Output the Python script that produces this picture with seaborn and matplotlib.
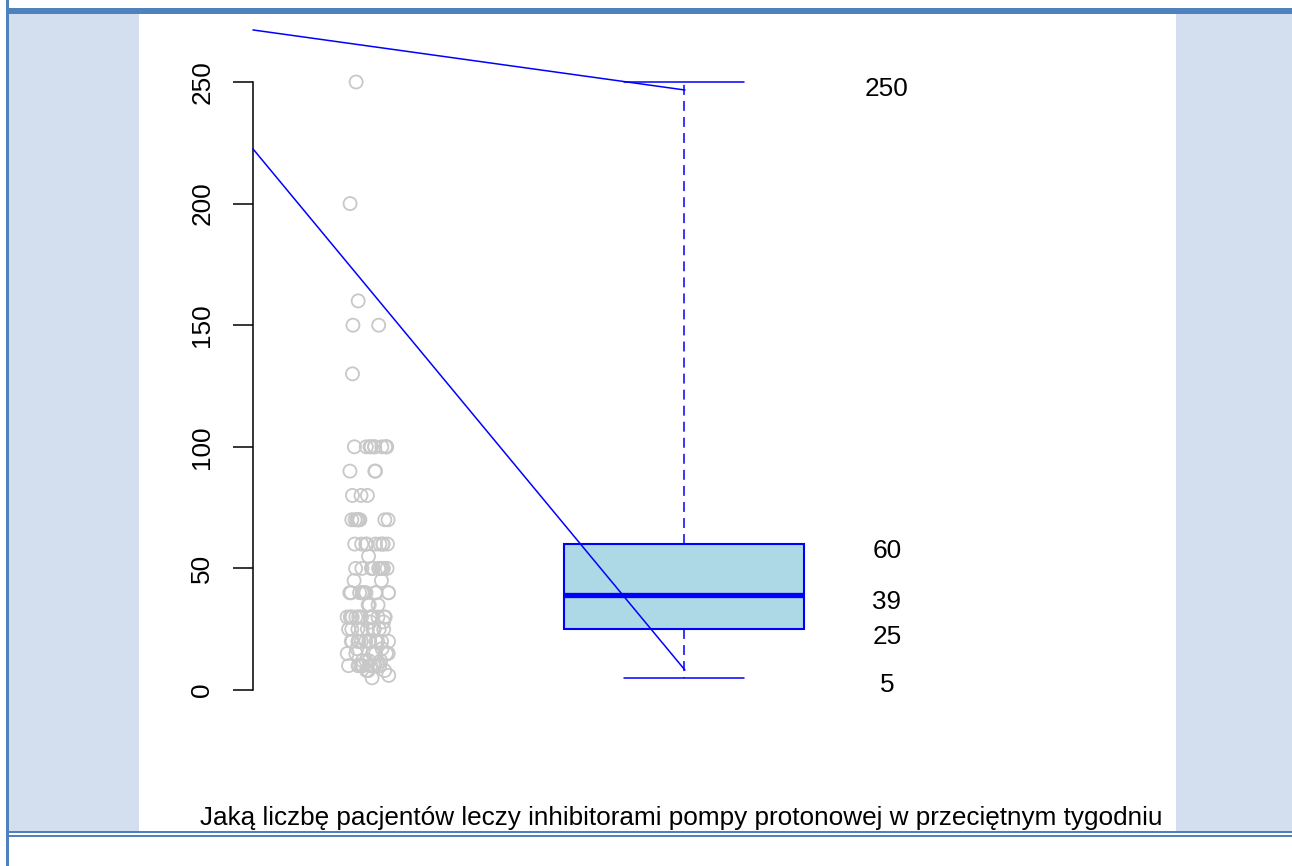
import numpy as np
import pandas as pd
import matplotlib
matplotlib.use("Agg")
import matplotlib.pyplot as plt
import seaborn as sns
from matplotlib.patches import Rectangle

# Answers given (patients per week) and how many respondents gave each one
answer_levels = [250, 200, 160, 150, 130, 100, 90, 80, 70, 60, 55, 50, 45,
                 40, 35, 30, 28, 25, 20, 17, 15, 12, 10, 8, 6, 5]
answer_counts = [1, 1, 1, 2, 1, 10, 3, 3, 8, 9, 1, 10, 2,
                 12, 3, 15, 2, 12, 12, 2, 8, 4, 10, 3, 1, 1]

# Five-number summary drawn as the box and written beside it
summary_values = [5, 25, 39, 60, 250]
summary_labels = ["5", "25", "39", "60", "250"]

# Two guide lines (start, end) in data units
guide_x = [-0.364, 1.003]
guide_upper_y = [271.4, 246.7]
guide_lower_y = [222.5, 8.2]

y_ticks = [0, 50, 100, 150, 200, 250]
groups = ["odpowiedzi", "podsumowanie"]
title = "Jaką liczbę pacjentów leczy inhibitorami pompy protonowej w przeciętnym tygodniu"

points_df = pd.DataFrame({
    "grupa": groups[0],
    "liczba": np.repeat(answer_levels, answer_counts),
})
summary_df = pd.DataFrame({"grupa": groups[1], "liczba": summary_values})

sns.set_style("white")
plt.rcParams["font.family"] = ["Liberation Sans", "DejaVu Sans"]
plt.rcParams["text.color"] = "black"
plt.rcParams["ytick.color"] = "black"
plt.rcParams["ytick.labelcolor"] = "black"

FS = 18.8

W, H = 1292, 866
fig = plt.figure(figsize=(W / 100, H / 100), dpi=100)
fig.patch.set_facecolor("white")


def fx(px):
    return px / W


def fy(py):
    return 1 - py / H


# Page decoration: side panels and frame lines
frame_blue = "#4F81BD"
panel_blue = "#D3DFEE"
fig.add_artist(Rectangle((fx(9), fy(831)), fx(139 - 9), (831 - 14) / H,
                         transform=fig.transFigure, color=panel_blue, lw=0, zorder=-2))
fig.add_artist(Rectangle((fx(1176), fy(831)), fx(W - 1176), (831 - 14) / H,
                         transform=fig.transFigure, color=panel_blue, lw=0, zorder=-2))
fig.add_artist(Rectangle((fx(7), fy(14)), fx(W - 7), 6 / H,
                         transform=fig.transFigure, color=frame_blue, lw=0, zorder=-1))
fig.add_artist(Rectangle((fx(6), 0), fx(2.5), 1,
                         transform=fig.transFigure, color=frame_blue, lw=0, zorder=-1))
fig.add_artist(Rectangle((fx(7), fy(833)), fx(W - 7), 2 / H,
                         transform=fig.transFigure, color=frame_blue, lw=0, zorder=-1))
fig.add_artist(Rectangle((fx(7), fy(837)), fx(W - 7), 2 / H,
                         transform=fig.transFigure, color=frame_blue, lw=0, zorder=-1))

ax = fig.add_axes([fx(253), fy(720), fx(1176 - 253), 700 / H])
ax.set_facecolor("none")

sns.boxplot(
    data=summary_df, x="grupa", y="liczba", order=groups, ax=ax,
    width=0.762, whis=(0, 100), showfliers=False, saturation=1,
    color="#ADD8E6", linecolor="blue", linewidth=1.5,
    medianprops=dict(color="blue", linewidth=3.8),
    whiskerprops=dict(color="blue", linewidth=1.1, linestyle=(0, (6.5, 4))),
    capprops=dict(color="blue", linewidth=1.1),
)

n_before = len(ax.collections)
sns.stripplot(
    data=points_df, x="grupa", y="liczba", order=groups, ax=ax,
    jitter=0.068, size=9.4, color="#C8C8C8",
)
for coll in ax.collections[n_before:]:
    coll.set_facecolor("none")
    coll.set_edgecolor("#C8C8C8")
    coll.set_linewidth(1.3)

ax.plot(guide_x, guide_upper_y, color="blue", lw=1.1, clip_on=False, zorder=5)
ax.plot(guide_x, guide_lower_y, color="blue", lw=1.1, clip_on=False, zorder=5)

for val, lab in zip(summary_values, summary_labels):
    ax.annotate(lab, xy=(1.642, val), xytext=(0, -10.3), textcoords="offset points",
                ha="center", va="baseline", fontsize=FS, color="black",
                annotation_clip=False)

ax.set_xlim(-0.3639, 2.557)
ax.set_ylim(-12.336, 275.49)
ax.set_xticks([])
ax.set_xlabel("")
ax.set_ylabel("")
for side in ("top", "right", "bottom"):
    ax.spines[side].set_visible(False)
ax.spines["left"].set_bounds(0, 250)
ax.spines["left"].set_color("black")
ax.spines["left"].set_linewidth(1.1)
ax.set_yticks(y_ticks)
ax.set_yticklabels([str(t) for t in y_ticks])
ax.tick_params(axis="y", left=True, length=14.4, width=1.1, direction="out",
               color="black", labelcolor="black", labelsize=FS, pad=13.5,
               labelrotation=90)
for lbl in ax.get_yticklabels():
    lbl.set_va("center")
    lbl.set_ha("right")

fig.text(fx(681), fy(825), title, ha="center", va="baseline", fontsize=FS,
         color="black")

fig.savefig("out.png", dpi=100)
